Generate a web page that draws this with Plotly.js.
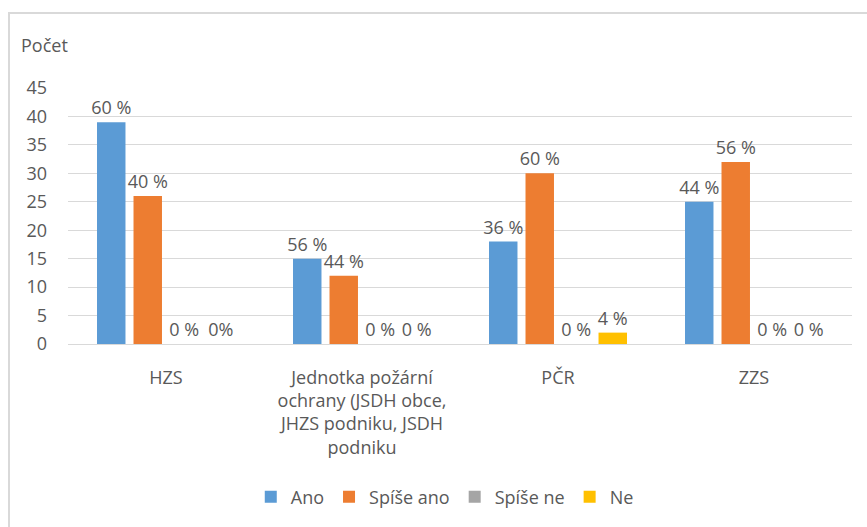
<!DOCTYPE html>
<html>
<head>
<meta charset="utf-8">
<script src="https://cdn.plot.ly/plotly-3.0.1.min.js"></script>
<style>
html,body{margin:0;padding:0;background:#fff;}
#frame{position:absolute;left:8px;top:12px;width:880px;height:540px;border:2px solid #D9D9D9;box-sizing:border-box;}
#chart{position:absolute;left:0;top:0;width:867px;height:527px;}
</style>
</head>
<body>
<div id="frame"></div>
<div id="chart"></div>
<script>
const categories = ["HZS", "Jednotka požární<br>ochrany (JSDH obce,<br>JHZS podniku, JSDH<br>podniku", "PČR", "ZZS"];
const seriesNames = ["Ano", "Spíše ano", "Spíše ne", "Ne"];
const ano = [39, 15, 18, 25];
const spiseAno = [26, 12, 30, 32];
const spiseNe = [0, 0, 0, 0];
const ne = [0, 0, 2, 0];
const anoLabels = ["60 %", "56 %", "36 %", "44 %"];
const spiseAnoLabels = ["40 %", "44 %", "60 %", "56 %"];
const spiseNeLabels = ["0 %", "0 %", "0 %", "0 %"];
const neLabels = ["0%", "0 %", "4 %", "0 %"];
const colors = ["#5B9BD5", "#ED7D31", "#A5A5A5", "#FFC000"];
const yTicks = [0, 5, 10, 15, 20, 25, 30, 35, 40, 45];

const values = [ano, spiseAno, spiseNe, ne];
const labels = [anoLabels, spiseAnoLabels, spiseNeLabels, neLabels];
const font = "Open Sans, Liberation Sans, sans-serif";

const traces = seriesNames.map((n, i) => ({
  type: "bar",
  name: n,
  x: categories,
  y: values[i],
  text: labels[i],
  textposition: "outside",
  constraintext: "none",
  cliponaxis: false,
  textfont: {family: font, size: 18, color: "#595959"},
  marker: {color: colors[i]},
  hoverinfo: "y+name"
}));

const layout = {
  width: 867, height: 527,
  paper_bgcolor: "rgba(0,0,0,0)",
  plot_bgcolor: "rgba(0,0,0,0)",
  margin: {l: 68, r: 15, t: 88, b: 183},
  barmode: "group",
  bargap: 0.255,
  bargroupgap: 0.22,
  font: {family: font, color: "#595959", size: 18},
  xaxis: {
    tickfont: {family: font, size: 18, color: "#595959"},
    showline: true, linecolor: "#D9D9D9", linewidth: 1,
    ticks: "", ticklabelstandoff: 17,
    fixedrange: true, automargin: false
  },
  yaxis: {
    range: [0, 45],
    tickvals: yTicks,
    ticktext: yTicks.map(String),
    tickfont: {family: font, size: 18, color: "#595959"},
    gridcolor: "#D9D9D9", gridwidth: 1,
    zeroline: false, showline: false,
    ticks: "", ticklen: 0,
    ticklabelstandoff: 20,
    fixedrange: true, automargin: false
  },
  legend: {
    orientation: "h", x: 0.513, xanchor: "center", xref: "container",
    y: 0.057, yanchor: "middle", yref: "container",
    font: {family: font, size: 18, color: "#595959"},
    itemwidth: 30, traceorder: "normal"
  },
  annotations: [{
    text: "Počet", xref: "paper", yref: "paper",
    x: -0.0625, y: 1.168, xanchor: "left", yanchor: "middle",
    showarrow: false, font: {family: font, size: 18, color: "#595959"}
  }]
};

Plotly.newPlot("chart", traces, layout, {displayModeBar: false, staticPlot: true});
</script>
</body>
</html>
